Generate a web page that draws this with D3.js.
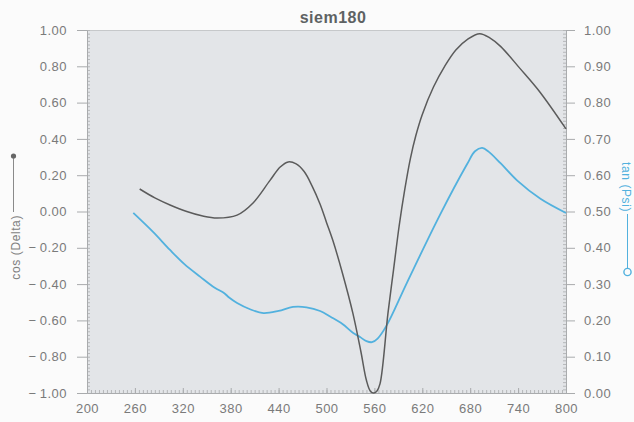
<!DOCTYPE html>
<html>
<head>
<meta charset="utf-8">
<script src="https://cdn.jsdelivr.net/npm/d3@7"></script>
<style>
	body { margin: 0; background: #fbfbfb; }
	svg text { font-family: "Liberation Sans", Arial, sans-serif; }
	.tick text { fill: #7a7a7a; font-size: 13px; letter-spacing: 0.5px; }
	.axis path, .axis line { stroke: #a9abad; }
	.minor path { display: none; }
	.minor line { stroke: #b5b7b9; }
</style>
</head>
<body>
<div id="chart"></div>
<script>
// Define margins
const MARGIN = {top: 30, right: 68, bottom: 29, left: 87};
const OUTER_WIDTH = 634;
const OUTER_HEIGHT = 422;

const TITLE = 'siem180';
const LEFT_LABEL = 'cos (Delta)';
const RIGHT_LABEL = 'tan (Psi)';
const DARK = '#5b5b5b';
const BLUE = '#52b1de';

// Tick labels
const xTicks = [200, 260, 320, 380, 440, 500, 560, 620, 680, 740, 800];
const leftTicks = [-1, -0.8, -0.6, -0.4, -0.2, 0, 0.2, 0.4, 0.6, 0.8, 1];
const rightTicks = [0, 0.1, 0.2, 0.3, 0.4, 0.5, 0.6, 0.7, 0.8, 0.9, 1];

// cos(Delta) series, left axis
const cosWave = [266, 285, 304, 325, 345, 363, 388, 408, 429, 442, 452, 462, 472, 482, 492, 500, 508, 520, 533, 543, 550, 555, 559, 563, 567, 577, 584, 591, 598, 605, 612, 620, 634, 648, 662, 677, 692, 705, 718, 742, 767, 800];
const cosDelta = [0.124, 0.075, 0.036, 0.0, -0.025, -0.036, -0.02, 0.047, 0.17, 0.245, 0.273, 0.262, 0.22, 0.14, 0.04, -0.06, -0.16, -0.34, -0.56, -0.77, -0.93, -0.99, -1.0, -0.99, -0.95, -0.56, -0.32, -0.08, 0.12, 0.29, 0.42, 0.535, 0.686, 0.80, 0.89, 0.95, 0.98, 0.955, 0.91, 0.79, 0.66, 0.455];

// tan(Psi) series, right axis
const tanWave = [258, 283, 304, 322, 342, 360, 372, 378, 388, 405, 421, 440, 458, 475, 492, 505, 520, 533, 542, 550, 557, 564, 575, 601, 642, 676, 686, 695, 703, 718, 739, 768, 800];
const tanPsi = [0.496, 0.443, 0.394, 0.355, 0.32, 0.29, 0.275, 0.263, 0.248, 0.23, 0.22, 0.226, 0.237, 0.236, 0.226, 0.21, 0.19, 0.166, 0.154, 0.143, 0.14, 0.15, 0.185, 0.305, 0.49, 0.63, 0.666, 0.675, 0.665, 0.633, 0.585, 0.535, 0.496];

const fmt = v => (v < 0 ? '\u2212\u2009' : '') + Math.abs(v).toFixed(2);

class DualChart {
	constructor(id) {
		this.id = id;
		this.width = OUTER_WIDTH - MARGIN.left - MARGIN.right;
		this.height = OUTER_HEIGHT - MARGIN.top - MARGIN.bottom;

		this.root = d3.select(`#${id}`).append('svg')
						.attr('width', OUTER_WIDTH)
						.attr('height', OUTER_HEIGHT);
		this.svg = this.root.append('g')
						.attr('transform', `translate(${MARGIN.left}, ${MARGIN.top})`);

		this.xScale = d3.scaleLinear().domain([200, 800]).range([0, this.width]);
		this.yLeft = d3.scaleLinear().domain([-1, 1]).range([this.height, 0]);
		this.yRight = d3.scaleLinear().domain([0, 1]).range([this.height, 0]);

		this.renderFrame();
		this.renderAxis();
		this.renderLines();
		this.renderLabels();
	}

	renderFrame() {
		this.svg.append('rect')
				.attr('width', this.width)
				.attr('height', this.height)
				.attr('fill', '#e3e5e8');

		this.svg.append('line')
				.attr('x1', 0).attr('x2', this.width)
				.attr('y1', 0.5).attr('y2', 0.5)
				.attr('stroke', '#c6c8ca');
	}

	renderAxis() {
		// Minor ticks, inside the plot
		this.svg.append('g').attr('class', 'minor')
				.attr('transform', `translate(0, ${this.height})`)
				.call(d3.axisBottom(this.xScale).ticks(120).tickSize(-3).tickFormat(''));
		this.svg.append('g').attr('class', 'minor')
				.call(d3.axisLeft(this.yLeft).ticks(100).tickSize(-3).tickFormat(''));
		this.svg.append('g').attr('class', 'minor')
				.attr('transform', `translate(${this.width}, 0)`)
				.call(d3.axisRight(this.yRight).ticks(100).tickSize(-3).tickFormat(''));

		// Major ticks
		this.svg.append('g').attr('class', 'x axis')
				.attr('transform', `translate(0, ${this.height})`)
				.call(d3.axisBottom(this.xScale).tickValues(xTicks).tickSize(-5).tickSizeOuter(0).tickPadding(11).tickFormat(d3.format('d')));

		this.svg.append('g').attr('class', 'y axis')
				.call(d3.axisLeft(this.yLeft).tickValues(leftTicks).tickSize(10).tickSizeOuter(0).tickPadding(10).tickFormat(fmt));

		this.svg.append('g').attr('class', 'y axis')
				.attr('transform', `translate(${this.width}, 0)`)
				.call(d3.axisRight(this.yRight).tickValues(rightTicks).tickSize(9).tickSizeOuter(0).tickPadding(9).tickFormat(fmt));
	}

	renderLines() {
		const cosLine = d3.line()
							.x((d, i) => this.xScale(cosWave[i]))
							.y(d => this.yLeft(d))
							.curve(d3.curveCatmullRom.alpha(0.5));

		const tanLine = d3.line()
							.x((d, i) => this.xScale(tanWave[i]))
							.y(d => this.yRight(d))
							.curve(d3.curveCatmullRom.alpha(0.5));

		this.svg.append('path')
				.datum(tanPsi)
				.attr('d', tanLine)
				.attr('fill', 'none')
				.attr('stroke', BLUE)
				.attr('stroke-width', 1.8);

		this.svg.append('path')
				.datum(cosDelta)
				.attr('d', cosLine)
				.attr('fill', 'none')
				.attr('stroke', DARK)
				.attr('stroke-width', 1.5);
	}

	renderLabels() {
		// Title
		this.root.append('text')
				.attr('x', 333)
				.attr('y', 23)
				.attr('text-anchor', 'middle')
				.attr('font-size', 16)
				.attr('font-weight', 'bold')
				.attr('letter-spacing', 0.5)
				.attr('fill', '#5e6263')
				.text(TITLE);

		// Left axis label with its legend marker
		this.root.append('text')
				.attr('transform', 'translate(20, 215) rotate(-90)')
				.attr('text-anchor', 'end')
				.attr('font-size', 12)
				.attr('letter-spacing', 0.6)
				.attr('fill', '#808080')
				.text(LEFT_LABEL);
		this.root.append('line')
				.attr('x1', 13.5).attr('x2', 13.5)
				.attr('y1', 212).attr('y2', 157)
				.attr('stroke', '#8a8a8a');
		this.root.append('circle')
				.attr('cx', 13.5).attr('cy', 156)
				.attr('r', 2.6)
				.attr('fill', '#666');

		// Right axis label with its legend marker
		this.root.append('text')
				.attr('transform', 'translate(622, 162) rotate(90)')
				.attr('font-size', 12)
				.attr('letter-spacing', 0.6)
				.attr('fill', BLUE)
				.text(RIGHT_LABEL);
		this.root.append('line')
				.attr('x1', 627.5).attr('x2', 627.5)
				.attr('y1', 214).attr('y2', 268)
				.attr('stroke', BLUE);
		this.root.append('circle')
				.attr('cx', 627.5).attr('cy', 272)
				.attr('r', 3.6)
				.attr('fill', '#fbfbfb')
				.attr('stroke', BLUE)
				.attr('stroke-width', 1.4);
	}
}

new DualChart('chart');
</script>
</body>
</html>
